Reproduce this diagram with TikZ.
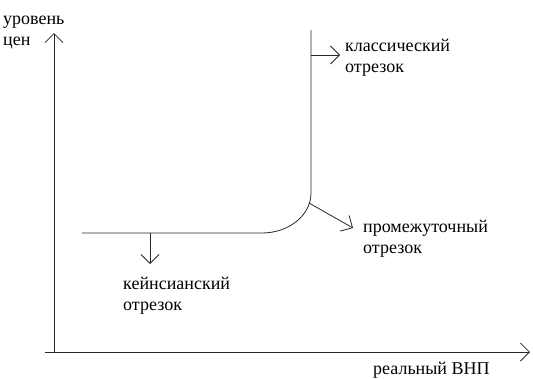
\documentclass[tikz,border=0pt]{standalone}
\usepackage{fontspec}
\setmainfont{Liberation Serif}
\usetikzlibrary{arrows.meta}
\begin{document}
\begin{tikzpicture}[x=1pt,y=-1pt,
  ln/.style={line width=0.8pt,draw=black!85},
  arr/.style={ln,-{Straight Barb[length=9pt,width=18pt,line width=0.8pt]}},
  lbl/.style={font=\fontsize{18}{21}\selectfont,align=left,inner sep=0pt,text=black}]
\useasboundingbox (0,0) rectangle (533,378);
% axes
\coordinate (o) at (54,352);
\coordinate (ytip) at (54,33);
\coordinate (xs) at (45,352);
\coordinate (xtip) at (530,352);
\draw[arr] (o) -- (ytip);
\draw[arr] (xs) -- (xtip);
\node[lbl,anchor=base west] (ylab) at (3,45) {уровень\\цен};
\node[lbl,anchor=base west] (xlab) at (373,374) {реальный ВНП};
% curve
\coordinate (h0) at (82,233);
\coordinate (h1) at (262,233);
\coordinate (v1) at (311,30);
\draw[ln] (h0) -- (h1) arc[start angle=270,end angle=360,x radius=49,y radius=-40] -- (v1);
% labels
\node[lbl,anchor=base west] (klass) at (345,72) {классический\\отрезок};
\coordinate (ka) at (311,55);
\coordinate (kb) at (340,55);
\draw[arr] (ka) -- (kb);
\node[lbl,anchor=base west] (prom) at (363,253) {промежуточный\\отрезок};
\coordinate (pa) at (309,203);
\coordinate (pb) at (353,228);
\draw[arr] (pa) -- (pb);
\node[lbl,anchor=base west] (keyn) at (123,310) {кейнсианский\\отрезок};
\coordinate (ka1) at (150,233);
\coordinate (ka2) at (150,264);
\draw[arr] (ka1) -- (ka2);
\end{tikzpicture}
\end{document}
